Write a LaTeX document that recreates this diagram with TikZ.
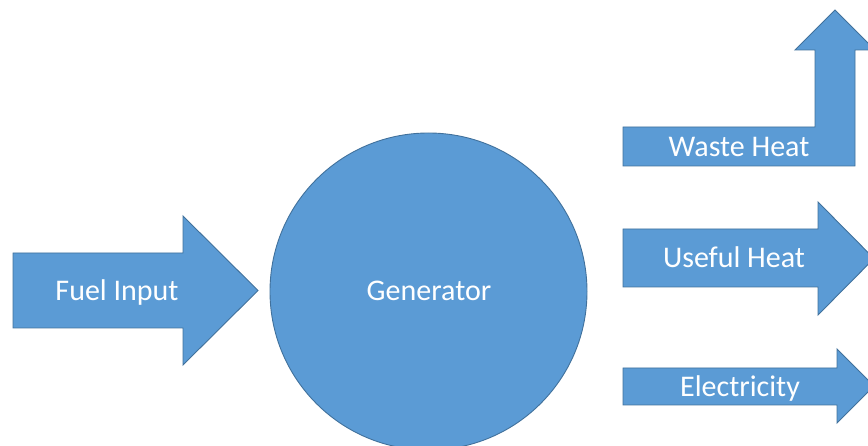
\documentclass[tikz,border=0pt]{standalone}
\usepackage{fontspec}
\setmainfont{Carlito}
\definecolor{flowfill}{HTML}{5B9BD5}
\definecolor{flowline}{HTML}{41719C}
\begin{document}
\begin{tikzpicture}[x=1pt,y=-1pt]
    % Define styles
    \tikzstyle{flow}=[fill=flowfill,draw=flowline,line width=0.9pt,line join=miter]
    \tikzstyle{flowtext}=[text=white,inner sep=0pt,anchor=base,font=\fontsize{30}{36}\selectfont]
    \useasboundingbox (0,0) rectangle (868,446);

    % Draw the generator
    \node[flow,circle,minimum size=317pt,inner sep=0pt] (gen) at (428.5,291.5) {};
    \node[flowtext] (gentext) at (429,301) {Generator};

    % Draw the input arrow
    \draw[flow] (13,253) -- (183,253) -- (183,216) -- (258,290.5) -- (183,365) -- (183,328) -- (13,328) -- cycle;
    \node[flowtext] (fuel) at (117,301) {Fuel Input};

    % Draw the output arrows
    \draw[flow] (623,127) -- (815,127) -- (815,50) -- (795,50) -- (835,10) -- (875,50) -- (855,50) -- (855,166) -- (623,166) -- cycle;
    \node[flowtext] (waste) at (739,157) {Waste Heat};

    \draw[flow] (623,229) -- (818,229) -- (818,202) -- (874,258.5) -- (818,315) -- (818,287) -- (623,287) -- cycle;
    \node[flowtext] (useful) at (734,268) {Useful Heat};

    \draw[flow] (623,368) -- (837,368) -- (837,349) -- (874,386) -- (837,423) -- (837,405) -- (623,405) -- cycle;
    \node[flowtext] (elec) at (740,396) {Electricity};
\end{tikzpicture}
\end{document}
